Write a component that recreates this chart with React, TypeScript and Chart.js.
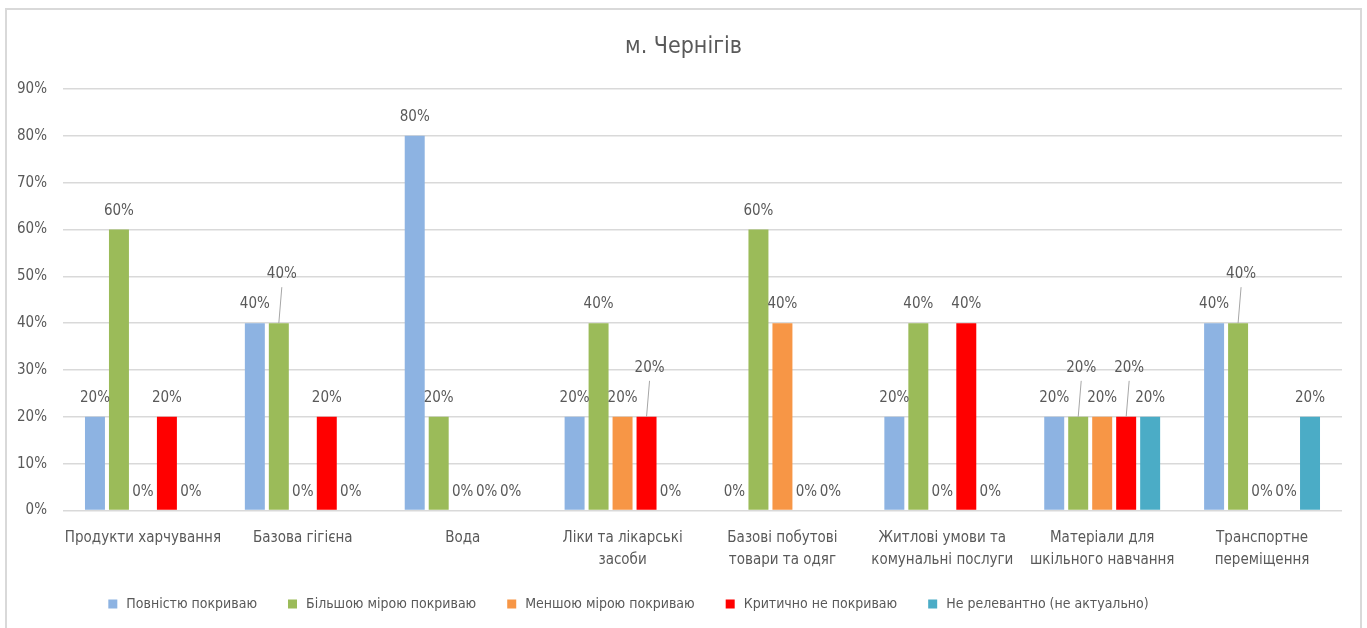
import React, { useEffect, useRef } from "react";
import { Chart, registerables } from "chart.js";

Chart.register(...registerables);

const categories: (string | string[])[] = [
  "Продукти харчування",
  "Базова гігієна",
  "Вода",
  ["Ліки та лікарські", "засоби"],
  ["Базові побутові", "товари та одяг"],
  ["Житлові умови та", "комунальні послуги"],
  ["Матеріали для", "шкільного навчання"],
  ["Транспортне", "переміщення"],
];

const seriesNames = [
  "Повністю покриваю",
  "Більшою мірою покриваю",
  "Меншою мірою покриваю",
  "Критично не покриваю",
  "Не релевантно (не актуально)",
];

const fullyCovered = [20, 40, 80, 20, 0, 20, 20, 40];
const mostlyCovered = [60, 40, 20, 40, 60, 40, 20, 40];
const lessCovered = [0, 0, 0, 20, 40, 0, 20, 0];
const criticallyNotCovered = [20, 20, 0, 20, 0, 40, 20, 0];
const notRelevant = [0, 0, 0, 0, 0, 0, 20, 20];

const seriesValues = [fullyCovered, mostlyCovered, lessCovered, criticallyNotCovered, notRelevant];
const seriesColors = ["#8DB3E2", "#9BBB59", "#F79646", "#FF0000", "#4BACC6"];

const yMin = 0;
const yMax = 90;
const yStep = 10;

const titleText = "м. Чернігів";

const FONT = "'DejaVu Sans Condensed', 'Liberation Sans Narrow', sans-serif";
const TEXT_COLOR = "#595959";
const FONT_SIZE = 15;
const LEGEND_FONT_SIZE = 14;
const TITLE_FONT_SIZE = 23;

const barLabelPlugin = {
  id: "barLabels",
  afterDatasetsDraw(chart: any) {
    const ctx: CanvasRenderingContext2D = chart.ctx;
    ctx.save();
    ctx.font = `${FONT_SIZE}px ${FONT}`;
    ctx.fillStyle = TEXT_COLOR;
    ctx.textAlign = "center";
    ctx.textBaseline = "alphabetic";
    const n = chart.data.labels.length;
    const h = 12;
    for (let j = 0; j < n; j++) {
      const placed: { l: number; r: number; t: number; b: number }[] = [];
      chart.data.datasets.forEach((ds: any, i: number) => {
        const meta = chart.getDatasetMeta(i);
        const bar: any = meta.data[j];
        if (!bar) return;
        const text = ds.data[j] + "%";
        const w = ctx.measureText(text).width - 2;
        let cx = bar.x;
        let base = bar.y - 15;
        const hit = (x: number, b: number) =>
          placed.some((r) => x - w / 2 < r.r && x + w / 2 > r.l && b - h < r.b && b > r.t);
        let raised = false;
        if (hit(cx, base)) {
          cx += 3;
          base -= 30;
          raised = true;
        }
        placed.push({ l: cx - w / 2, r: cx + w / 2, t: base - h, b: base });
        if (raised) {
          ctx.save();
          ctx.strokeStyle = "#A6A6A6";
          ctx.lineWidth = 1;
          ctx.beginPath();
          ctx.moveTo(cx, base + 9);
          ctx.lineTo(bar.x, bar.y);
          ctx.stroke();
          ctx.restore();
        }
        ctx.fillText(text, cx, base);
      });
    }
    ctx.restore();
  },
};

const titleLegendPlugin = {
  id: "titleLegend",
  afterDraw(chart: any) {
    const ctx: CanvasRenderingContext2D = chart.ctx;
    ctx.save();
    // title
    ctx.font = `${TITLE_FONT_SIZE}px ${FONT}`;
    ctx.fillStyle = TEXT_COLOR;
    ctx.textAlign = "center";
    ctx.textBaseline = "middle";
    ctx.fillText(titleText, chart.width / 2, 47);
    // legend
    ctx.font = `${LEGEND_FONT_SIZE}px ${FONT}`;
    ctx.textAlign = "left";
    const box = 9;
    const gap = 9;
    const spacing = 31;
    const items = chart.data.datasets.map((ds: any) => ({
      text: ds.label,
      color: ds.backgroundColor,
      w: box + gap + ctx.measureText(ds.label).width,
    }));
    const total = items.reduce((s: number, it: any) => s + it.w, 0) + spacing * (items.length - 1);
    let x = (chart.width - total) / 2 - 55;
    const y = chart.height - 24;
    items.forEach((it: any) => {
      ctx.fillStyle = it.color;
      ctx.fillRect(x, y - box / 2, box, box);
      ctx.fillStyle = TEXT_COLOR;
      ctx.fillText(it.text, x + box + gap, y);
      x += it.w + spacing;
    });
    ctx.restore();
  },
};

export default function App() {
  const canvasRef = useRef<HTMLCanvasElement | null>(null);

  useEffect(() => {
    if (!canvasRef.current) return;
    const chart = new Chart(canvasRef.current, {
      type: "bar",
      data: {
        labels: categories,
        datasets: seriesNames.map((name, i) => ({
          label: name,
          data: seriesValues[i],
          backgroundColor: seriesColors[i],
          borderWidth: 0,
          barPercentage: 0.833,
          categoryPercentage: 0.75,
        })),
      },
      options: {
        animation: false,
        responsive: true,
        maintainAspectRatio: false,
        layout: { autoPadding: false, padding: { left: 1, right: 25, top: 89, bottom: 48 } },
        plugins: {
          title: { display: false },
          legend: { display: false },
          tooltip: { enabled: false },
        },
        scales: {
          x: {
            grid: { display: false },
            border: { display: false },
            ticks: {
              color: TEXT_COLOR,
              font: { family: FONT, size: FONT_SIZE, lineHeight: 1.45 },
              padding: 9,
              maxRotation: 0,
              autoSkip: false,
            },
          },
          y: {
            min: yMin,
            max: yMax,
            border: { display: false },
            grid: { color: "#D9D9D9", lineWidth: 1.5, drawTicks: false },
            ticks: {
              stepSize: yStep,
              color: TEXT_COLOR,
              font: { family: FONT, size: FONT_SIZE },
              padding: 16,
              callback: (v: any) => v + "%",
            },
          },
        },
      },
      plugins: [barLabelPlugin, titleLegendPlugin],
    });
    return () => chart.destroy();
  }, []);

  return (
    <div style={{ position: "fixed", left: 0, top: 0, width: 1367, height: 628, background: "#fff" }}>
      <div
        style={{
          position: "absolute",
          left: 5,
          top: 8,
          width: 1357,
          height: 660,
          border: "2px solid #D9D9D9",
          boxSizing: "border-box",
        }}
      />
      <canvas ref={canvasRef} style={{ position: "absolute", left: 0, top: 0 }} />
    </div>
  );
}
